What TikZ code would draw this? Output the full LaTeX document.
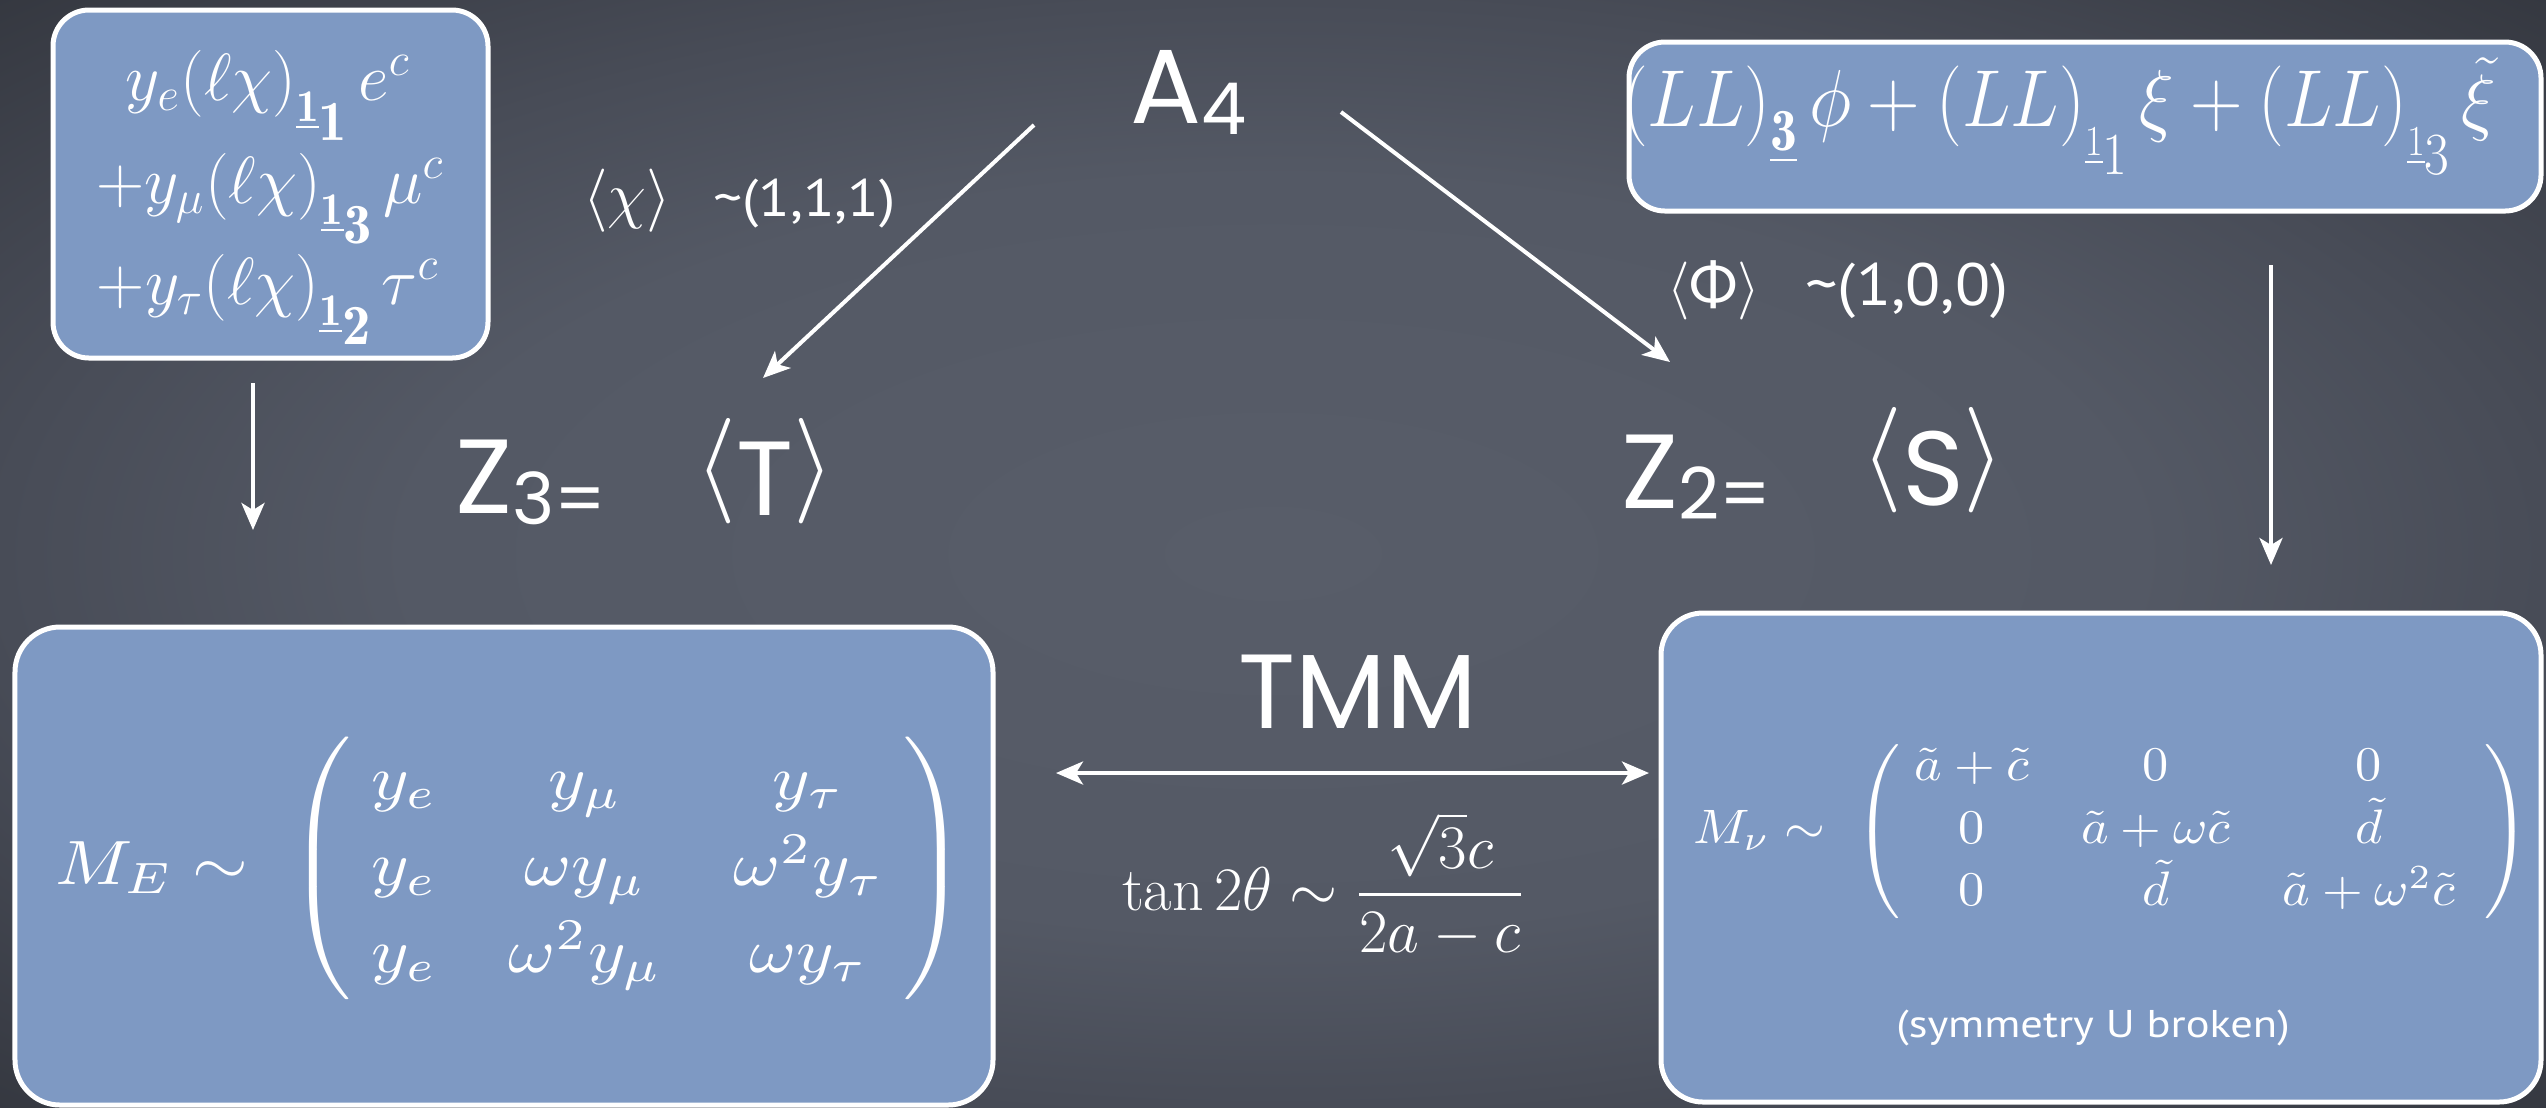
\RequirePackage{fix-cm}
\documentclass[tikz,border=0pt]{standalone}
\usepackage{amsmath}
\usepackage{graphicx}
\usepackage{fontspec}
\usetikzlibrary{arrows.meta}
\newfontfamily\chalkbig{Poppins}
\newfontfamily\chalksmall{PT Sans}
\newfontfamily\chalkgreek{Lato}
\definecolor{bgA}{RGB}{88,93,105}
\definecolor{bgB}{RGB}{84,89,101}
\definecolor{bgC}{RGB}{72,76,87}
\definecolor{bgD}{RGB}{52,55,63}
\definecolor{panelc}{RGB}{126,153,195}
\pgfdeclareradialshading{vign}{\pgfpoint{0bp}{0bp}}{color(0bp)=(bgA); color(17bp)=(bgB); color(25bp)=(bgC); color(36bp)=(bgD); color(50bp)=(bgD)}
\newcommand{\rpb}[2]{\raisebox{-0.32em}{\scalebox{0.68}{$\underline{\mathbf{#1}}$}}\raisebox{-0.6em}{\scalebox{0.85}{$\mathbf{#2}$}}}
\newcommand{\rpa}[2]{\raisebox{-0.36em}{\scalebox{0.53}{$\underline{#1}$}}\raisebox{-0.6em}{\scalebox{0.74}{$#2$}}}
\newcommand{\rpc}[1]{\raisebox{-0.3em}{\scalebox{0.74}{$\underline{\mathbf{#1}}$}}}
\newcommand{\csub}[1]{\raisebox{-0.11em}{\scalebox{0.68}{#1}}}
\tikzset{
  panel/.style={draw=white, line width=0.05cm, fill=panelc, rounded corners=0.36cm, inner sep=0pt, outer sep=0pt},
  txt/.style={text=white, inner sep=0pt, outer sep=0pt},
  bigfont/.style={font={\chalkbig\fontsize{30}{36}\selectfont}},
  tlfont/.style={font={\fontsize{19}{23}\selectfont}},
  arr/.style={draw=white, line width=0.04cm, -{Stealth[length=0.27cm,width=0.23cm,inset=0.07cm]}},
  dblarr/.style={draw=white, line width=0.04cm, {Stealth[length=0.27cm,width=0.23cm,inset=0.07cm]}-{Stealth[length=0.27cm,width=0.23cm,inset=0.07cm]}}
}
\begin{document}
\begin{tikzpicture}
\useasboundingbox (0,0) rectangle (25.46,-11.07);
\shade[shading=vign] (0,0) rectangle (25.46,-11.07);

% panels
\node[panel, minimum width=4.35cm, minimum height=3.48cm] (tlbox) at (2.705,-1.84) {};
\node[panel, minimum width=9.12cm, minimum height=1.69cm] (trbox) at (20.85,-1.265) {};
\node[panel, rounded corners=0.45cm, minimum width=9.78cm, minimum height=4.78cm] (blbox) at (5.04,-8.66) {};
\node[panel, rounded corners=0.42cm, minimum width=8.80cm, minimum height=4.89cm] (brbox) at (21.01,-8.575) {};

% top-left panel text
\node[txt, anchor=base, tlfont] (l1) at (2.68,-1.00) {$y_e(\ell\chi)\rpb{1}{1}\,e^c$};
\node[txt, anchor=base, tlfont] (l2) at (2.70,-2.03) {$+y_\mu(\ell\chi)\rpb{1}{3}\,\mu^c$};
\node[txt, anchor=base, tlfont] (l3) at (2.68,-3.04) {$+y_\tau(\ell\chi)\rpb{1}{2}\,\tau^c$};

% top-right panel text
\node[txt, anchor=base west, font={\fontsize{23}{28}\selectfont}] (trt) at (16.22,-1.26) {\scalebox{0.9}[1]{$(LL)\rpc{3}\,\phi+(LL)\rpa{1}{1}\,\xi+(LL)\rpa{1}{3}\,\scalebox{1}[0.92]{$\tilde\xi$}$}};

% group labels
\node[txt, anchor=base west, bigfont] (a4) at (11.30,-1.23) {A\csub{4}};
\node[txt, anchor=base west, bigfont] (z3) at (4.55,-5.13) {Z\csub{3=}};
\node[txt, bigfont] (tgen) at (7.65,-4.71) {$\langle$\raisebox{-0.17em}{T}$\rangle$};
\node[txt, anchor=base west, bigfont] (z2) at (16.21,-5.08) {Z\csub{2=}};
\node[txt, bigfont] (sgen) at (19.33,-4.60) {$\langle$\raisebox{-0.18em}{S}$\rangle$};

% vev labels
\node[txt, anchor=base west, font={\fontsize{18}{22}\selectfont}] (chi) at (5.83,-2.16) {$\langle\chi\rangle$\hspace{0.42cm}{\chalksmall\fontsize{15}{18}\selectfont\scalebox{1.1}[1]{\textasciitilde(1,1,1)}}};
\node[txt, anchor=base west, font={\fontsize{16.5}{20}\selectfont}] (phi) at (16.67,-3.05) {$\langle${\chalkgreek Φ}$\rangle$\hspace{0.45cm}{\chalksmall\fontsize{17}{20}\selectfont\scalebox{1.08}[1]{\textasciitilde(1,0,0)}}};

% TMM
\node[txt, anchor=base, bigfont] (tmm) at (13.58,-7.28) {TMM};
\node[txt, anchor=base west, font={\fontsize{17.6}{21}\selectfont}] (tanf) at (11.22,-9.10) {$\tan 2\theta\sim\dfrac{\sqrt{3}c}{2a-c}$};

% mass matrices
\node[txt, anchor=west] (me) at (0.55,-8.685) {\resizebox*{9.11cm}{2.63cm}{\renewcommand{\arraystretch}{1.15}$M_E\sim\;\left(\;\begin{matrix} y_e & y_\mu & y_\tau\\ y_e & \omega y_\mu & \omega^2 y_\tau\\ y_e & \omega^2 y_\mu & \omega y_\tau\end{matrix}\;\right)$}};
\node[txt, anchor=west] (mn) at (16.93,-8.315) {\resizebox*{8.37cm}{1.83cm}{$M_\nu\sim\;\left(\;\begin{matrix}\tilde a+\tilde c & 0 & 0\\ 0 & \tilde a+\omega\tilde c & \tilde d\\ 0 & \tilde d & \tilde a+\omega^2\tilde c\end{matrix}\;\;\right)$}};
\node[txt, font={\chalksmall\fontsize{11}{13}\selectfont}] (sym) at (20.93,-10.28) {\scalebox{1.15}[1]{(symmetry U broken)}};

% connectors
\coordinate (aLs) at (10.34,-1.25);
\coordinate (aLe) at (7.63,-3.78);
\coordinate (aRs) at (13.41,-1.12);
\coordinate (aRe) at (16.70,-3.62);
\coordinate (dLs) at (2.53,-3.83);
\coordinate (dLe) at (2.53,-5.30);
\coordinate (dRs) at (22.71,-2.65);
\coordinate (dRe) at (22.71,-5.65);
\coordinate (hL) at (10.56,-7.73);
\coordinate (hR) at (16.49,-7.73);
\draw[arr] (aLs) -- (aLe);
\draw[arr] (aRs) -- (aRe);
\draw[arr] (dLs) -- (dLe);
\draw[arr] (dRs) -- (dRe);
\draw[dblarr] (hL) -- (hR);
\end{tikzpicture}
\end{document}
